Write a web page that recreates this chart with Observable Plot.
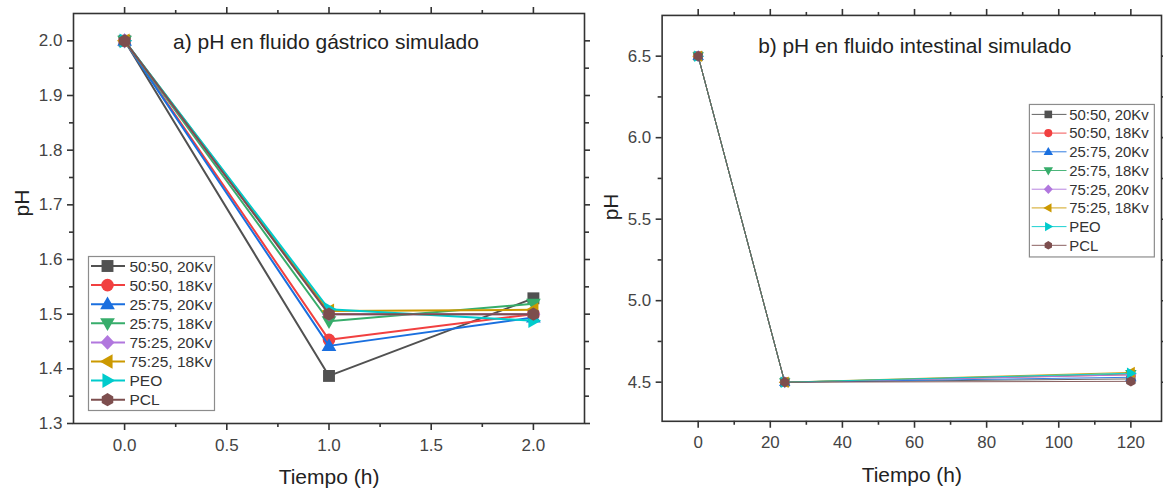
<!DOCTYPE html>
<html><head><meta charset="utf-8">
<script src="https://cdn.jsdelivr.net/npm/d3@7"></script>
<script src="https://cdn.jsdelivr.net/npm/@observablehq/plot@0.6"></script>
<style>
html,body{margin:0;padding:0;background:#fff;overflow:hidden;}
#wrap{position:relative;width:1163px;height:489px;overflow:hidden;}
#a,#b{position:absolute;top:0;}
#a{left:0px} #b{left:590px}
</style></head><body><div id="wrap"><div id="a"></div><div id="b"></div></div>
<script>
// ---------- data ----------
const seriesNames = ["50:50, 20Kv", "50:50, 18Kv", "25:75, 20Kv", "25:75, 18Kv", "75:25, 20Kv", "75:25, 18Kv", "PEO", "PCL"];
const seriesColors = ["#515151", "#F14040", "#1A6FDF", "#37AD6B", "#B177DE", "#CC9900", "#00CBCC", "#7D4E4E"];

const timeA = [0, 1, 2];                 // h
const phA = [
  [2.0, 1.387, 1.529],
  [2.0, 1.453, 1.500],
  [2.0, 1.442, 1.494],
  [2.0, 1.487, 1.519],
  [2.0, 1.500, 1.500],
  [2.0, 1.506, 1.508],
  [2.0, 1.509, 1.488],
  [2.0, 1.500, 1.500]
];

const timeB = [0, 24, 120];              // h
const phB = [
  [6.5, 4.50, 4.520],
  [6.5, 4.50, 4.545],
  [6.5, 4.50, 4.530],
  [6.5, 4.50, 4.550],
  [6.5, 4.50, 4.545],
  [6.5, 4.50, 4.560],
  [6.5, 4.50, 4.555],
  [6.5, 4.50, 4.505]
];

const xTicksA = [0, 0.5, 1, 1.5, 2];
const xMinorA = [0.25, 0.75, 1.25, 1.75];
const yTicksA = [1.3, 1.4, 1.5, 1.6, 1.7, 1.8, 1.9, 2.0];
const yMinorA = [1.35, 1.45, 1.55, 1.65, 1.75, 1.85, 1.95];

const xTicksB = [0, 20, 40, 60, 80, 100, 120];
const xMinorB = [10, 30, 50, 70, 90, 110];
const yTicksB = [4.5, 5.0, 5.5, 6.0, 6.5];
const yMinorB = [4.75, 5.25, 5.75, 6.25];

const titleA = "a) pH en fluido gástrico simulado";
const titleB = "b) pH en fluido intestinal simulado";
const xLabel = "Tiempo (h)";
const yLabel = "pH";

// ---------- symbols ----------
function poly(pts) {
  return {draw(ctx, size) {
    const r = Math.sqrt(size / Math.PI);
    ctx.moveTo(pts[0][0] * r, pts[0][1] * r);
    for (let k = 1; k < pts.length; k++) ctx.lineTo(pts[k][0] * r, pts[k][1] * r);
    ctx.closePath();
  }};
}
const symCircle = {draw(ctx, size) { const r = 0.9 * Math.sqrt(size / Math.PI); ctx.moveTo(r, 0); ctx.arc(0, 0, r, 0, 2 * Math.PI); }};
const hexPts = d3.range(6).map(k => [Math.cos(Math.PI / 2 + k * Math.PI / 3) * 0.95, Math.sin(Math.PI / 2 + k * Math.PI / 3) * 0.95]);
const symbols = [
  poly([[-0.85, -0.85], [0.85, -0.85], [0.85, 0.85], [-0.85, 0.85]]),
  symCircle,
  poly([[0, -1.1], [1.05, 0.72], [-1.05, 0.72]]),
  poly([[0, 1.1], [1.05, -0.72], [-1.05, -0.72]]),
  poly([[0, -1.05], [1.0, 0], [0, 1.05], [-1.0, 0]]),
  poly([[-1.1, 0], [0.72, -1.05], [0.72, 1.05]]),
  poly([[1.1, 0], [-0.72, -1.05], [-0.72, 1.05]]),
  poly(hexPts)
];

// ---------- helpers ----------
const AX = "#333";
const TXT = "#444";
const FONT = "'Liberation Sans', Arial, sans-serif";

function rowsOf(times, vals) {
  return seriesNames.map((s, i) => times.map((t, j) => ({series: s, t, ph: vals[i][j]})));
}

function axes(xMaj, xMin, yMaj, yMin, xFmt, yFmt) {
  const st = {stroke: AX, strokeWidth: 1.6, label: null};
  return [
    Plot.axisX({...st, anchor: "bottom", ticks: xMaj, tickSize: 7, tickPadding: 8, tickFormat: xFmt, fontSize: 17, fill: TXT}),
    Plot.axisX({...st, anchor: "bottom", ticks: xMin, tickSize: 4, fill: "none"}),
    Plot.axisX({...st, anchor: "top", ticks: xMaj, tickSize: 7, fill: "none"}),
    Plot.axisX({...st, anchor: "top", ticks: xMin, tickSize: 4, fill: "none"}),
    Plot.axisY({...st, anchor: "left", ticks: yMaj, tickSize: 6, tickPadding: 5, tickFormat: yFmt, fontSize: 17, fill: TXT}),
    Plot.axisY({...st, anchor: "left", ticks: yMin, tickSize: 4, fill: "none"}),
    Plot.axisY({...st, anchor: "right", ticks: yMaj, tickSize: 6, fill: "none"}),
    Plot.axisY({...st, anchor: "right", ticks: yMin, tickSize: 4, fill: "none"})
  ];
}

function seriesMarks(rows, lw, r) {
  return rows.flatMap((d, i) => [
    Plot.line(d, {x: "t", y: "ph", stroke: seriesColors[i], strokeWidth: lw}),
    Plot.dot(d, {x: "t", y: "ph", symbol: symbols[i], r, fill: seriesColors[i], stroke: "none"})
  ]);
}

function addLegend(svg, {x, y, w, h, lineX0, lineX1, symX, textX, row0, step, lw, r, fs}) {
  const g = d3.select(svg).append("g").attr("font-family", FONT).attr("text-anchor", "start");
  g.append("rect").attr("x", x).attr("y", y).attr("width", w).attr("height", h)
    .attr("fill", "white").attr("stroke", "#8c8c8c").attr("stroke-width", 1.2);
  seriesNames.forEach((s, i) => {
    const yy = row0 + i * step;
    g.append("line").attr("x1", lineX0).attr("x2", lineX1).attr("y1", yy).attr("y2", yy)
      .attr("stroke", seriesColors[i]).attr("stroke-width", lw);
    g.append("path").attr("transform", `translate(${symX},${yy})`)
      .attr("d", d3.symbol(symbols[i], Math.PI * r * r)()).attr("fill", seriesColors[i]);
    g.append("text").attr("x", textX).attr("y", yy).attr("dy", "0.36em").attr("text-anchor", "start")
      .attr("font-size", fs).attr("fill", "#333").text(s);
  });
}

// ---------- panel a ----------
const plotA = Plot.plot({
  width: 590, height: 489,
  marginLeft: 73, marginRight: 6, marginTop: 13, marginBottom: 66,
  style: {fontFamily: FONT, background: "white", color: TXT, overflow: "visible"},
  x: {domain: [-0.25, 2.25]},
  y: {domain: [1.3, 2.05]},
  marks: [
    ...seriesMarks(rowsOf(timeA, phA), 2, 7),
    Plot.frame({stroke: AX, strokeWidth: 1.6}),
    ...axes(xTicksA, xMinorA, yTicksA, yMinorA, d3.format(".1f"), d3.format(".1f")),
    Plot.text([titleA], {frameAnchor: "top", dx: -3, dy: 29, fontSize: 21, fill: "#222", lineAnchor: "middle"}),
    Plot.text([xLabel], {frameAnchor: "bottom", dy: 54, fontSize: 21, fill: "#222", lineAnchor: "middle"}),
    Plot.text([yLabel], {frameAnchor: "left", dx: -51, dy: -2, rotate: -90, fontSize: 21, fill: "#222", lineAnchor: "middle"})
  ]
});
document.getElementById("a").appendChild(plotA);
addLegend(plotA, {x: 88.5, y: 256.5, w: 126, h: 154, lineX0: 91, lineX1: 125, symX: 107.5, textX: 129.5,
  row0: 266, step: 19.1, lw: 2, r: 7, fs: 15.5});

// ---------- panel b ----------
const plotB = Plot.plot({
  width: 576, height: 489,
  marginLeft: 72, marginRight: 2, marginTop: 15, marginBottom: 66,
  style: {fontFamily: FONT, background: "white", color: TXT, overflow: "visible"},
  x: {domain: [-10, 128.5]},
  y: {domain: [4.26, 6.75]},
  marks: [
    ...seriesMarks(rowsOf(timeB, phB), 0.9, 5.5),
    Plot.frame({stroke: AX, strokeWidth: 1.6}),
    ...axes(xTicksB, xMinorB, yTicksB, yMinorB, d3.format("d"), d3.format(".1f")),
    Plot.text([titleB], {frameAnchor: "top", dx: 3, dy: 31, fontSize: 21, fill: "#222", lineAnchor: "middle"}),
    Plot.text([xLabel], {frameAnchor: "bottom", dy: 54, fontSize: 21, fill: "#222", lineAnchor: "middle"}),
    Plot.text([yLabel], {frameAnchor: "left", dx: -51, dy: 2, rotate: -90, fontSize: 21, fill: "#222", lineAnchor: "middle"})
  ]
});
document.getElementById("b").appendChild(plotB);
addLegend(plotB, {x: 441.7, y: 105, w: 125.6, h: 153.3, lineX0: 444, lineX1: 479, symX: 460.7, textX: 481.7,
  row0: 115, step: 18.8, lw: 0.9, r: 4.5, fs: 15});
</script></body></html>
